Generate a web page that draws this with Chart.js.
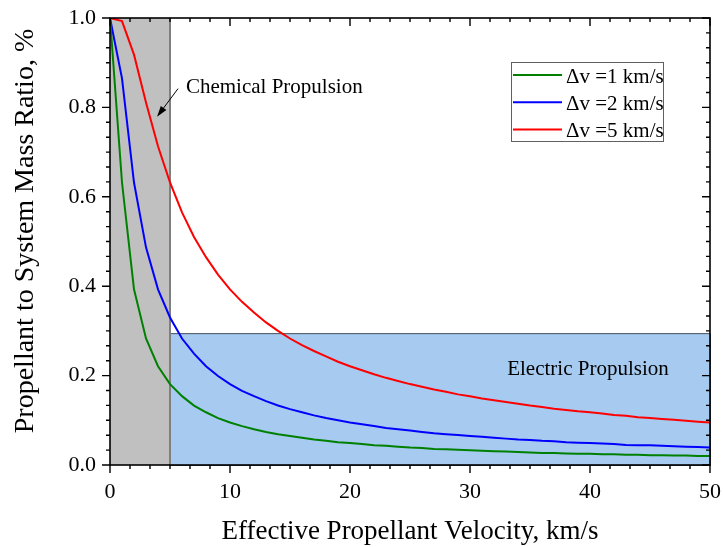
<!DOCTYPE html>
<html>
<head>
<meta charset="utf-8">
<title>Propellant to System Mass Ratio</title>
<script src="https://cdn.jsdelivr.net/npm/chart.js@4.4.1/dist/chart.umd.min.js"></script>
<style>
  html, body { margin: 0; padding: 0; background: #ffffff; }
  #wrap { width: 723px; height: 547px; }
</style>
</head>
<body>
<div id="wrap"><canvas id="ratioChart" width="723" height="547"></canvas></div>
<script>
// effective propellant velocity, km/s
const velocities = [
  0, 1, 2, 3, 4, 5, 6, 7, 8, 9, 10, 11, 12, 13, 14, 15, 16, 17, 18, 19, 20,
  21, 22, 23, 24, 25, 26, 27, 28, 29, 30, 31, 32, 33, 34, 35, 36, 37, 38, 39, 40,
  41, 42, 43, 44, 45, 46, 47, 48, 49, 50
];

// propellant / system mass ratio
const ratioDv1 = [
  1.000, 0.632, 0.393, 0.283, 0.221, 0.181, 0.154, 0.133, 0.118, 0.105, 0.095,
  0.087, 0.080, 0.074, 0.069, 0.065, 0.061, 0.057, 0.054, 0.051, 0.049,
  0.047, 0.044, 0.043, 0.041, 0.039, 0.038, 0.036, 0.035, 0.034, 0.033,
  0.032, 0.031, 0.030, 0.029, 0.028, 0.027, 0.027, 0.026, 0.025, 0.025,
  0.024, 0.024, 0.023, 0.023, 0.022, 0.022, 0.021, 0.021, 0.020, 0.020
];
const ratioDv2 = [
  1.000, 0.865, 0.632, 0.487, 0.393, 0.330, 0.283, 0.249, 0.221, 0.199, 0.181,
  0.166, 0.154, 0.143, 0.133, 0.125, 0.118, 0.111, 0.105, 0.100, 0.095,
  0.091, 0.087, 0.083, 0.080, 0.077, 0.074, 0.071, 0.069, 0.067, 0.065,
  0.063, 0.061, 0.059, 0.057, 0.056, 0.054, 0.053, 0.051, 0.050, 0.049,
  0.048, 0.047, 0.045, 0.044, 0.044, 0.043, 0.042, 0.041, 0.040, 0.039
];
const ratioDv5 = [
  1.000, 0.993, 0.918, 0.811, 0.713, 0.632, 0.565, 0.510, 0.465, 0.426, 0.393,
  0.365, 0.341, 0.319, 0.300, 0.283, 0.268, 0.255, 0.243, 0.231, 0.221,
  0.212, 0.203, 0.195, 0.188, 0.181, 0.175, 0.169, 0.164, 0.158, 0.154,
  0.149, 0.145, 0.141, 0.137, 0.133, 0.130, 0.126, 0.123, 0.120, 0.118,
  0.115, 0.112, 0.110, 0.107, 0.105, 0.103, 0.101, 0.099, 0.097, 0.095
];

const seriesLabels = ["\u0394v =1 km/s", "\u0394v =2 km/s", "\u0394v =5 km/s"];
const seriesColors = ["#008000", "#0000ff", "#ff0000"];

const xTickLabels = [0, 10, 20, 30, 40, 50];
const yTickLabels = ["0.0", "0.2", "0.4", "0.6", "0.8", "1.0"];

// shaded regimes (data units)
const chemicalRange = [0, 5, 0, 1];      // xMin, xMax, yMin, yMax
const electricRange = [5, 50, 0, 0.295];

const FONT = "'Liberation Serif', 'Times New Roman', serif";

function toPoints(ys) {
  return velocities.map((v, i) => ({ x: v, y: ys[i] }));
}

// regions, frame, minor ticks, notes and legend
const decorPlugin = {
  id: "decor",
  beforeDatasetsDraw(chart) {
    const { ctx } = chart;
    const xs = chart.scales.x, ys = chart.scales.y;
    ctx.save();
    // chemical propulsion
    let x0 = xs.getPixelForValue(chemicalRange[0]), x1 = xs.getPixelForValue(chemicalRange[1]);
    let y0 = ys.getPixelForValue(chemicalRange[3]), y1 = ys.getPixelForValue(chemicalRange[2]);
    ctx.fillStyle = "#c0c0c0";
    ctx.fillRect(x0, y0, x1 - x0, y1 - y0);
    // electric propulsion
    const ex0 = xs.getPixelForValue(electricRange[0]), ex1 = xs.getPixelForValue(electricRange[1]);
    const ey0 = ys.getPixelForValue(electricRange[3]), ey1 = ys.getPixelForValue(electricRange[2]);
    ctx.fillStyle = "#a6caf0";
    ctx.fillRect(ex0, ey0, ex1 - ex0, ey1 - ey0);
    ctx.strokeStyle = "#4a5560";
    ctx.lineWidth = 1;
    ctx.strokeRect(ex0 + 0.5, ey0 + 0.5, ex1 - ex0, ey1 - ey0);
    // edge of chemical block
    ctx.strokeStyle = "#7f7f7f";
    ctx.lineWidth = 2;
    ctx.beginPath();
    ctx.moveTo(x1, y0);
    ctx.lineTo(x1, y1);
    ctx.stroke();
    ctx.restore();
  },
  afterDatasetsDraw(chart) {
    const { ctx, chartArea: a } = chart;
    const xs = chart.scales.x, ys = chart.scales.y;
    ctx.save();

    // notes
    ctx.fillStyle = "#000";
    ctx.font = "21px " + FONT;
    ctx.textBaseline = "alphabetic";
    ctx.textAlign = "left";
    ctx.fillText("Chemical Propulsion", xs.getPixelForValue(6.33), ys.getPixelForValue(0.833));
    ctx.fillText("Electric Propulsion", xs.getPixelForValue(33.1), ys.getPixelForValue(0.2016));

    // arrow to the chemical block
    const ax0 = xs.getPixelForValue(5.67), ay0 = ys.getPixelForValue(0.842);
    const ax1 = xs.getPixelForValue(3.92), ay1 = ys.getPixelForValue(0.779);
    const ang = Math.atan2(ay1 - ay0, ax1 - ax0);
    ctx.strokeStyle = "#000";
    ctx.lineWidth = 1;
    ctx.beginPath();
    ctx.moveTo(ax0, ay0);
    ctx.lineTo(ax1 - 8 * Math.cos(ang), ay1 - 8 * Math.sin(ang));
    ctx.stroke();
    ctx.beginPath();
    ctx.moveTo(ax1, ay1);
    ctx.lineTo(ax1 - 11 * Math.cos(ang) + 3.5 * Math.sin(ang), ay1 - 11 * Math.sin(ang) - 3.5 * Math.cos(ang));
    ctx.lineTo(ax1 - 11 * Math.cos(ang) - 3.5 * Math.sin(ang), ay1 - 11 * Math.sin(ang) + 3.5 * Math.cos(ang));
    ctx.closePath();
    ctx.fill();

    // frame
    ctx.strokeStyle = "#000";
    ctx.lineWidth = 1.6;
    ctx.strokeRect(a.left, a.top, a.right - a.left, a.bottom - a.top);

    // ticks: left/bottom point out, top/right point in
    ctx.lineWidth = 1.4;
    ctx.beginPath();
    for (let i = 0; i <= 30; i++) {
      const v = i * 10 / 6;
      const px = xs.getPixelForValue(v);
      const len = i % 6 === 0 ? 8 : 4;
      ctx.moveTo(px, a.bottom); ctx.lineTo(px, a.bottom + len);
      ctx.moveTo(px, a.top); ctx.lineTo(px, a.top + len);
    }
    for (let i = 0; i <= 30; i++) {
      const v = i * 0.2 / 6;
      const py = ys.getPixelForValue(v);
      const len = i % 6 === 0 ? 8 : 4;
      ctx.moveTo(a.left, py); ctx.lineTo(a.left - len, py);
      ctx.moveTo(a.right, py); ctx.lineTo(a.right - len, py);
    }
    ctx.stroke();

    // legend
    const lx = 511, ly = 62, lw = 152, lh = 79;
    ctx.fillStyle = "#fff";
    ctx.fillRect(lx, ly, lw, lh);
    ctx.strokeStyle = "#606060";
    ctx.lineWidth = 1;
    ctx.strokeRect(lx + 0.5, ly + 0.5, lw, lh);
    ctx.font = "21px " + FONT;
    chart.data.datasets.forEach((ds, i) => {
      const rowY = ly + 13 + i * 27.2;
      ctx.strokeStyle = ds.borderColor;
      ctx.lineWidth = 2;
      ctx.beginPath();
      ctx.moveTo(lx + 2, rowY);
      ctx.lineTo(lx + 51, rowY);
      ctx.stroke();
      ctx.fillStyle = "#000";
      ctx.fillText(ds.label, lx + 55, rowY + 7.8);
    });

    // y-axis title
    ctx.save();
    ctx.translate(33, 231);
    ctx.rotate(-Math.PI / 2);
    ctx.textAlign = "center";
    ctx.font = "28px " + FONT;
    ctx.fillText("Propellant to System Mass Ratio, %", 0, 0);
    ctx.restore();

    ctx.restore();
  }
};

new Chart(document.getElementById("ratioChart"), {
  type: "line",
  data: {
    datasets: [ratioDv1, ratioDv2, ratioDv5].map((ys, i) => ({
      label: seriesLabels[i],
      data: toPoints(ys),
      borderColor: seriesColors[i],
      backgroundColor: seriesColors[i],
      borderWidth: 2,
      pointRadius: 0,
      tension: 0,
      fill: false
    }))
  },
  options: {
    responsive: false,
    animation: false,
    devicePixelRatio: 1,
    layout: { padding: { top: 18, right: 13, bottom: 0, left: 0 } },
    plugins: {
      legend: { display: false },
      tooltip: { enabled: false }
    },
    scales: {
      x: {
        type: "linear",
        min: 0,
        max: 50,
        afterFit(scale) {
          scale.height = 82;
          scale.paddingLeft = 0;
          scale.paddingRight = 0;
        },
        afterBuildTicks(scale) { scale.ticks = xTickLabels.map(v => ({ value: v })); },
        ticks: {
          autoSkip: false,
          maxRotation: 0,
          color: "#000",
          padding: 14,
          font: { family: FONT, size: 22 },
          callback: v => String(v)
        },
        grid: { display: false, drawTicks: false },
        border: { display: false },
        title: {
          display: true,
          text: "Effective Propellant Velocity, km/s",
          color: "#000",
          font: { family: FONT, size: 27, lineHeight: 1 },
          padding: { top: 0, bottom: 1.5 }
        }
      },
      y: {
        type: "linear",
        min: 0,
        max: 1,
        afterFit(scale) {
          scale.width = 110;
          scale.paddingTop = 0;
          scale.paddingBottom = 0;
        },
        afterBuildTicks(scale) { scale.ticks = yTickLabels.map(t => ({ value: parseFloat(t) })); },
        ticks: {
          autoSkip: false,
          color: "#000",
          padding: 14,
          font: { family: FONT, size: 22 },
          callback: (v, i) => yTickLabels[i]
        },
        grid: { display: false, drawTicks: false },
        border: { display: false }
      }
    }
  },
  plugins: [decorPlugin]
});
</script>
</body>
</html>
